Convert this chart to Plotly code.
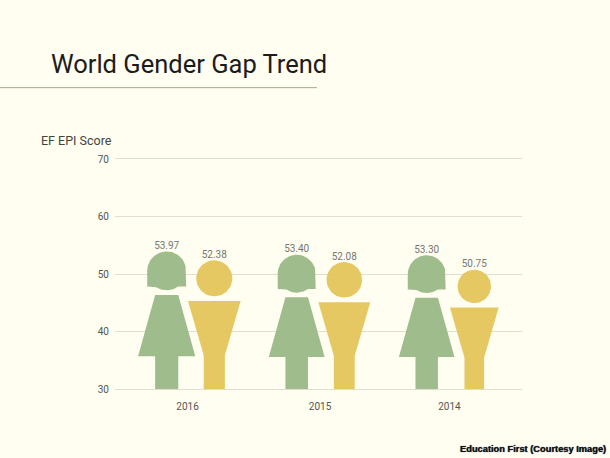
import math
import plotly.graph_objects as go

years = ["2016", "2015", "2014"]
women = [53.97, 53.40, 53.30]
men = [52.38, 52.08, 50.75]
y_ticks = [30, 40, 50, 60, 70]

W, H = 610, 458
L, R, T, B = 115, 522, 159, 389.5
PX_PER_X = 130.0
PX_PER_Y = (B - T) / 40.0
X0_PX = 187.5
GREEN, YELLOW = "#97b784", "#e4c458"
BG = "#fffef1"
GRID = "#e0dfce"
FONT = "Roboto"
TICK_POS = [0, 1.02, 2.015]
FEMALE_OFF, MALE_OFF = -20.8 / PX_PER_X, 26.8 / PX_PER_X


def arc(cx, cy, r, a0, a1, n=48):
    return [(cx + r * math.cos(math.radians(a0 + (a1 - a0) * i / n)),
             cy + r * math.sin(math.radians(a0 + (a1 - a0) * i / n))) for i in range(n + 1)]


def female(h):
    """Outline in pixels relative to (centre, baseline), scaled by height h."""
    r, cy, rect = .141 * h, .857 * h, .743 * h
    dx = math.sqrt(max(r * r - (cy - rect) ** 2, 0))
    ang = math.degrees(math.atan2(cy - rect, dx))
    head = [(-r, rect), (-dx, rect)] + arc(0, cy, r, 180 + ang, 360 - ang) + [(r, rect)] + arc(0, cy, r, 0, 180)
    n, b, ny, by = .0836 * h, .207 * h, .682 * h, .238 * h
    body = [(-n, 0), (-n, by), (-b, by), (-n, ny), (n, ny), (b, by), (n, by), (n, 0), (-n, 0)]
    return head, body


def male(h):
    r, cy = .14 * h, .86 * h
    head = arc(0, cy, r, 0, 360, 64)
    n, b, ty, wy = .082 * h, .204 * h, .683 * h, .262 * h
    body = [(-n, 0), (-n, wy), (-b, ty), (b, ty), (n, wy), (n, 0), (-n, 0)]
    return head, body


def to_data(parts, centre):
    xs, ys = [], []
    for part in parts:
        xs += [centre + p[0] / PX_PER_X for p in part] + [None]
        ys += [30 + p[1] / PX_PER_Y for p in part] + [None]
    return xs, ys


fig = go.Figure()
for name, vals, make, off, col in [("Women", women, female, FEMALE_OFF, GREEN),
                                   ("Men", men, male, MALE_OFF, YELLOW)]:
    for i, v in enumerate(vals):
        xs, ys = to_data(make((v - 30) * PX_PER_Y), i + off)
        fig.add_trace(go.Scatter(x=xs, y=ys, mode="lines", fill="toself", fillcolor=col,
                                 line=dict(width=0), opacity=0.93, showlegend=False, name=name))
    fig.add_trace(go.Scatter(x=[i + off for i in range(3)], y=vals, mode="text",
                             text=[f"{v:.2f}" for v in vals], textposition="top center",
                             textfont=dict(family=FONT, size=10, color="#77776f"), showlegend=False))

fig.update_layout(
    width=W, height=H, autosize=False,
    margin=dict(l=L, r=W - R, t=T, b=H - B, pad=0),
    paper_bgcolor=BG, plot_bgcolor=BG,
    xaxis=dict(range=[(L - X0_PX) / PX_PER_X, (R - X0_PX) / PX_PER_X], tickvals=TICK_POS, ticktext=years,
               showgrid=False, zeroline=False, showline=True, mirror=True, linecolor=GRID, linewidth=1,
               ticks="", ticklabelstandoff=8,
               tickfont=dict(family=FONT, size=10, color="#55554f")),
    yaxis=dict(range=[30, 70], tickvals=y_ticks, gridcolor=GRID, gridwidth=1, zeroline=False,
               showline=False, ticklabelstandoff=5,
               tickfont=dict(family=FONT, size=10, color="#55554f")),
)
fig.add_shape(type="line", xref="paper", yref="paper", x0=-L / (R - L), x1=(317 - L) / (R - L),
              y0=(B - 87.5) / (B - T), y1=(B - 87.5) / (B - T), line=dict(color="#a9a690", width=1))


def note(text, x, y, **kw):
    fig.add_annotation(text=text, xref="paper", yref="paper", x=(x - L) / (R - L), y=(B - y) / (B - T),
                       showarrow=False, xanchor=kw.pop("xanchor", "left"), yanchor="middle", **kw)


note("World Gender Gap Trend", 48.5, 64, font=dict(family=FONT, size=25.5, color="#1c1c1a"))
note("EF EPI Score", 38.5, 140, font=dict(family=FONT, size=12.5, color="#44443f"))
note("<b>Education First (Courtesy Image)</b>", 608, 450, xanchor="right",
     font=dict(family="Liberation Sans", size=9.3, color="#111111",
               shadow="0 0 1px #111, 1px 1px 1px #fff, -1px -1px 1px #fff, 1px -1px 1px #fff, -1px 1px 1px #fff"))

fig.write_html("out.html", config={"displayModeBar": False},
               post_script="document.body.style.margin='0';document.body.style.background='" + BG + "';")
